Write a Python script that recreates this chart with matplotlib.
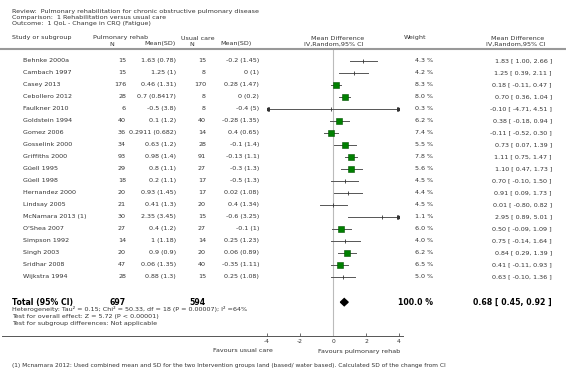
import numpy as np
import matplotlib
matplotlib.use('Agg')
import matplotlib.pyplot as plt
import matplotlib.transforms as mtransforms
from matplotlib.lines import Line2D
from matplotlib.patches import Polygon

studies = ["Behnke 2000a", "Cambach 1997", "Casey 2013", "Cebollero 2012", "Faulkner 2010",
           "Goldstein 1994", "Gomez 2006", "Gosselink 2000", "Griffiths 2000", "Güell 1995",
           "Güell 1998", "Hernandez 2000", "Lindsay 2005", "McNamara 2013 (1)", "O'Shea 2007",
           "Simpson 1992", "Singh 2003", "Sridhar 2008", "Wijkstra 1994"]
rehab_n = [15, 15, 176, 28, 6, 40, 36, 34, 93, 29, 18, 20, 21, 30, 27, 14, 20, 47, 28]
rehab_msd = ["1.63 (0.78)", "1.25 (1)", "0.46 (1.31)", "0.7 (0.8417)", "-0.5 (3.8)", "0.1 (1.2)",
             "0.2911 (0.682)", "0.63 (1.2)", "0.98 (1.4)", "0.8 (1.1)", "0.2 (1.1)", "0.93 (1.45)",
             "0.41 (1.3)", "2.35 (3.45)", "0.4 (1.2)", "1 (1.18)", "0.9 (0.9)", "0.06 (1.35)", "0.88 (1.3)"]
usual_n = [15, 8, 170, 8, 8, 40, 14, 28, 91, 27, 17, 17, 20, 15, 27, 14, 20, 40, 15]
usual_msd = ["-0.2 (1.45)", "0 (1)", "0.28 (1.47)", "0 (0.2)", "-0.4 (5)", "-0.28 (1.35)",
             "0.4 (0.65)", "-0.1 (1.4)", "-0.13 (1.1)", "-0.3 (1.3)", "-0.5 (1.3)", "0.02 (1.08)",
             "0.4 (1.34)", "-0.6 (3.25)", "-0.1 (1)", "0.25 (1.23)", "0.06 (0.89)", "-0.35 (1.11)", "0.25 (1.08)"]
weights = [4.3, 4.2, 8.3, 8.0, 0.3, 6.2, 7.4, 5.5, 7.8, 5.6, 4.5, 4.4, 4.5, 1.1, 6.0, 4.0, 6.2, 6.5, 5.0]
md = [1.83, 1.25, 0.18, 0.70, -0.10, 0.38, -0.11, 0.73, 1.11, 1.10, 0.70, 0.91, 0.01, 2.95,
      0.50, 0.75, 0.84, 0.41, 0.63]
ci_lo = [1.00, 0.39, -0.11, 0.36, -4.71, -0.18, -0.52, 0.07, 0.75, 0.47, -0.10, 0.09, -0.80, 0.89,
         -0.09, -0.14, 0.29, -0.11, -0.10]
ci_hi = [2.66, 2.11, 0.47, 1.04, 4.51, 0.94, 0.30, 1.39, 1.47, 1.73, 1.50, 1.73, 0.82, 5.01,
         1.09, 1.64, 1.39, 0.93, 1.36]
total_n = [697, 594]
total_weight = 100.0
total_md, total_lo, total_hi = 0.68, 0.45, 0.92
xticks = [-4, -2, 0, 2, 4]

W, H = 566, 373
TXT = '#333333'
fig = plt.figure(figsize=(W / 100, H / 100), dpi=100)

# forest axes: x from -4..4 at pixels 267..399, rows between y=48 and y=336
ax = fig.add_axes([267 / W, (H - 336) / H, 132 / W, (336 - 48) / H])
ax.set_xlim(-4, 4)
ax.set_ylim(22.92, -1.08)
for s in ax.spines.values():
    s.set_visible(False)
ax.set_yticks([])
ax.set_xticks(xticks)
ax.set_xticklabels([str(t) for t in xticks])
ax.tick_params(axis='x', direction='in', length=2, width=0.6, color='#555555',
               labelsize=4.3, labelcolor=TXT, pad=2.5)
ax.axvline(0, color='#bbbbbb', lw=0.8)

rows = np.arange(len(studies))
for i in rows:
    lo, hi = ci_lo[i], ci_hi[i]
    l2, h2 = max(lo, -4), min(hi, 4)
    ax.plot([l2, h2], [i, i], color='#555555', lw=0.7)
    if lo < -4:
        ax.plot(-4, i, marker='<', ms=2.6, color='#333333')
    if hi > 4:
        ax.plot(4, i, marker='>', ms=2.6, color='#333333')
    if weights[i] >= 5.5:
        ax.plot(md[i], i, marker='s', ms=3.0 + 0.12 * weights[i], color='#008000',
                mec='#005000', mew=0.4)
    else:
        ax.plot(md[i], i, marker='|', ms=3.5, color='#333333', mew=0.6)

ty = 20.1
ax.add_patch(Polygon([[total_lo, ty], [total_md, ty - 0.3], [total_hi, ty], [total_md, ty + 0.3]],
                     closed=True, color='black'))

bt = mtransforms.blended_transform_factory(fig.transFigure, ax.transData)
fs = 4.6


def col(xp, y, s, ha='left', **kw):
    kw.setdefault('fontsize', fs)
    kw.setdefault('color', TXT)
    fig.text(xp / W, y, s, ha=ha, va='center', transform=bt, **kw)


for i in rows:
    col(23, i, studies[i])
    col(126, i, str(rehab_n[i]), ha='right')
    col(176, i, rehab_msd[i], ha='right')
    col(206, i, str(usual_n[i]), ha='right')
    col(259, i, usual_msd[i], ha='right')
    col(433, i, f"{weights[i]:.1f} %", ha='right')
    col(552, i, f"{md[i]:.2f} [ {ci_lo[i]:.2f}, {ci_hi[i]:.2f} ]", ha='right')

bold = dict(fontsize=5.6, fontweight='bold', color='black')
col(12, ty, "Total (95% CI)", **bold)
col(126, ty, str(total_n[0]), ha='right', **bold)
col(206, ty, str(total_n[1]), ha='right', **bold)
col(433, ty, f"{total_weight:.1f} %", ha='right', **bold)
col(552, ty, f"{total_md:.2f} [ {total_lo:.2f}, {total_hi:.2f} ]", ha='right', **bold)


def ftext(xp, yp, s, ha='left', **kw):
    kw.setdefault('fontsize', fs)
    kw.setdefault('color', TXT)
    fig.text(xp / W, 1 - yp / H, s, ha=ha, va='center', **kw)


ftext(12, 309.5, "Heterogeneity: Tau² = 0.15; Chi² = 50.33, df = 18 (P = 0.00007); I² =64%")
ftext(12, 316.5, "Test for overall effect: Z = 5.72 (P < 0.00001)")
ftext(12, 323.5, "Test for subgroup differences: Not applicable")

ftext(12, 11, "Review:  Pulmonary rehabilitation for chronic obstructive pulmonary disease")
ftext(12, 17.5, "Comparison:  1 Rehabilitation versus usual care")
ftext(12, 24, "Outcome:  1 QoL - Change in CRQ (Fatigue)")

ftext(12, 38, "Study or subgroup")
ftext(121, 38, "Pulmonary rehab", ha='center')
ftext(112, 44, "N", ha='center')
ftext(176, 44, "Mean(SD)", ha='right')
ftext(198, 38, "Usual care", ha='center')
ftext(192, 44, "N", ha='center')
ftext(252, 44, "Mean(SD)", ha='right')
ftext(338, 38, "Mean Difference", ha='center')
ftext(334, 44, "IV,Random,95% CI", ha='center')
ftext(415, 38, "Weight", ha='center')
ftext(518, 38, "Mean Difference", ha='center')
ftext(516, 44, "IV,Random,95% CI", ha='center')

fig.add_artist(Line2D([0, 1], [1 - 48.5 / H] * 2, color='#999999', lw=1.5))
fig.add_artist(Line2D([2 / W, 403 / W], [1 - 336 / H] * 2, color='#555555', lw=0.7))

ftext(273, 351, "Favours usual care", ha='right')
ftext(318, 351, "Favours pulmonary rehab")
ftext(12, 365, "(1) Mcnamara 2012: Used combined mean and SD for the two Intervention groups land "
      "(based/ water based). Calculated SD of the change from CI", fontsize=4.2)

fig.savefig('out.png', dpi=100)
